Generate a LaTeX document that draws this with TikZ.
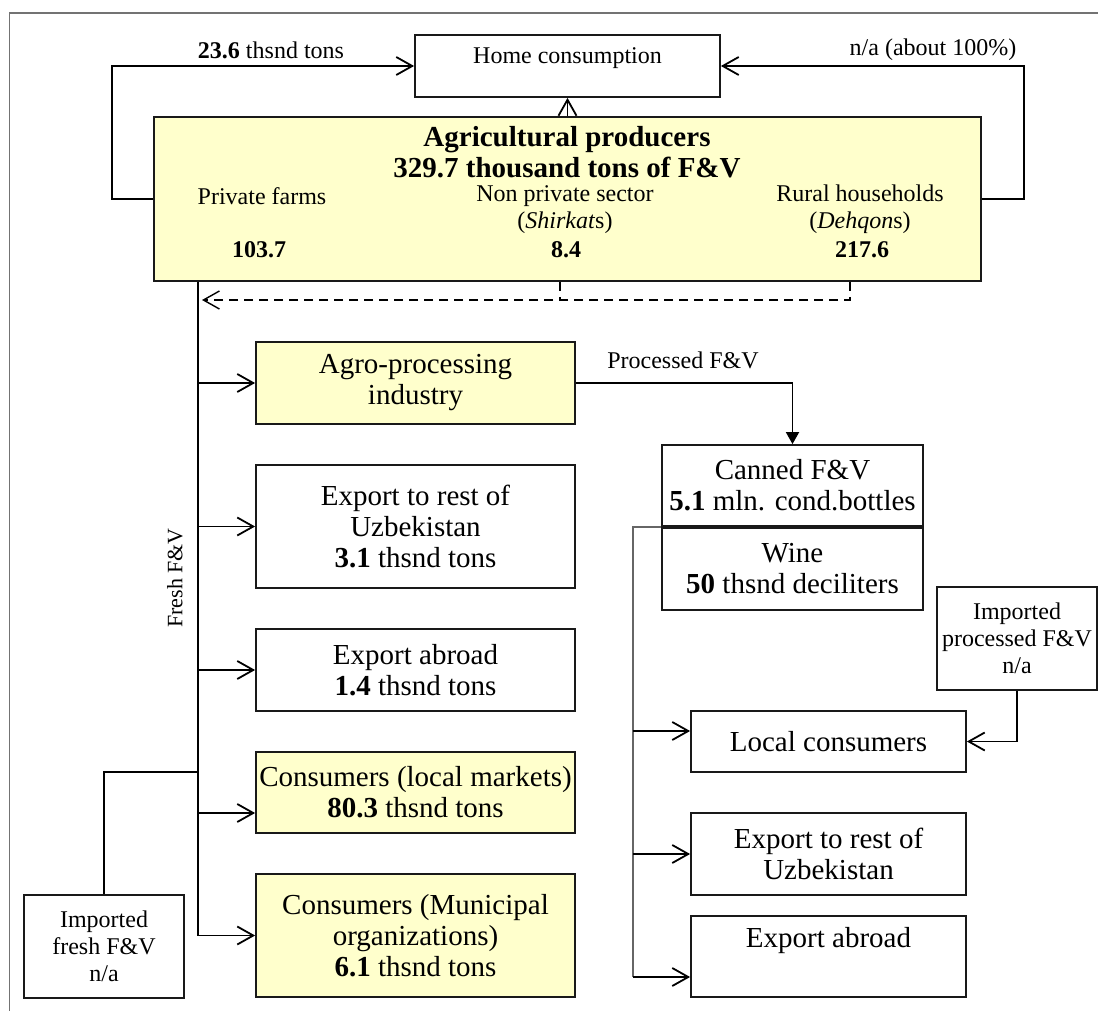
\documentclass[tikz,border=0pt]{standalone}
\usepackage{fontspec}
\setmainfont{Liberation Serif}
\usepackage{xcolor}
\usetikzlibrary{arrows.meta}
\definecolor{prodyellow}{HTML}{FFFFCC}
\newcommand\lblfont{\fontsize{12}{13.5}\selectfont}
\newcommand\boxfont{\fontsize{14.5}{15.5}\selectfont}

\begin{document}
\begin{tikzpicture}[x=0.5pt,y=-0.5pt]
\tikzset{
box/.style={draw=black!90,line width=0.9pt,align=center,inner sep=0pt,font=\boxfont},
prodbox/.style={box,fill=prodyellow},
boxsize/.style 2 args={minimum width=#1*0.5pt,minimum height=#2*0.5pt},
link/.style={line width=0.9pt},
flow/.style={link,-{Straight Barb[length=8pt,width=9pt]}},
fillflow/.style={link,-{Triangle[length=6pt,width=6.5pt]}},
dashlink/.style={line width=0.7pt,dash pattern=on 4.5pt off 3pt},
dashflow/.style={dashlink,-{Straight Barb[length=8pt,width=9pt]}},
thinlink/.style={line width=0.6pt,black!60}
}
\useasboundingbox (0,0) rectangle (1098,1011);
\draw[black!55,line width=0.6pt] (9.5,1011) -- (9.5,13) -- (1098,13);

% producers and home consumption
\node[box,boxsize={305}{62},font=\lblfont,text depth=10.6pt] (home) at (567.5,66) {Home consumption};
\node[prodbox,boxsize={827}{164}] (agri) at (567.5,199) {};
\node[font=\boxfont\bfseries,align=center] (agrititle) at (567,152) {Agricultural producers\\329.7 thousand tons of F\&V};
\node[font=\lblfont] (farms) at (262,196) {Private farms};
\node[font=\lblfont\bfseries] (farmsval) at (259,250) {103.7};
\node[font=\lblfont,align=center] (shirkat) at (565,209.5) {Non private sector\\(\textit{Shirkat}s)};
\node[font=\lblfont\bfseries] (shirkatval) at (566,250) {8.4};
\node[font=\lblfont,align=center] (dehqon) at (860,209.5) {Rural households\\(\textit{Dehqon}s)};
\node[font=\lblfont\bfseries] (dehqonval) at (862,250) {217.6};
\node[font=\lblfont] (ownlbl) at (271,50) {\textbf{23.6} thsnd tons};
\node[font=\lblfont] (hhlbl) at (933,50) {n/a (about 100\%)};

% fresh F&V
\node[prodbox,boxsize={319}{82}] (agro) at (415.5,383) {Agro-processing\\industry};
\node[box,boxsize={319}{123}] (exprest) at (415.5,526.5) {Export to rest of\\Uzbekistan\\\textbf{3.1} thsnd tons};
\node[box,boxsize={319}{82}] (expabr) at (415.5,670) {Export abroad\\\textbf{1.4} thsnd tons};
\node[prodbox,boxsize={319}{81}] (locmkt) at (415.5,792.5) {Consumers (local markets)\\\textbf{80.3} thsnd tons};
\node[prodbox,boxsize={319}{123}] (municip) at (415.5,935.5) {Consumers (Municipal\\organizations)\\\textbf{6.1} thsnd tons};
\node[box,boxsize={160}{103},font=\lblfont] (impfresh) at (104,946.5) {Imported\\fresh F\&V\\n/a};
\node[font=\fontsize{11}{12}\selectfont,rotate=90] (freshlbl) at (175,578) {Fresh F\&V};

% processed F&V
\node[font=\lblfont] (proclbl) at (683,360) {Processed F\&V};
\node[box,boxsize={261}{81}] (canned) at (792.5,485.5) {Canned F\&V\\\textbf{5.1} mln. cond.bottles};
\node[box,boxsize={261}{82},anchor=north] (wine) at (canned.south) {Wine\\\textbf{50} thsnd deciliters};
\node[box,boxsize={160}{103},font=\lblfont] (impproc) at (1017,638.5) {Imported\\processed F\&V\\n/a};
\node[box,boxsize={275}{61}] (localc) at (828.5,741.5) {Local consumers};
\node[box,boxsize={275}{82}] (exprest2) at (828.5,854) {Export to rest of\\Uzbekistan};
\node[box,boxsize={275}{81},text depth=18.7pt] (expabr2) at (828.5,956.5) {Export abroad};

\coordinate (ownbend) at (112,66);
\coordinate (hhbend) at (1024,66);
\coordinate (trunk) at (198,936);
\coordinate (dashtip) at (202,300);
\coordinate (dashA) at (560,300);
\coordinate (dashB) at (850,300);
\coordinate (impjoin) at (198,772);
\coordinate (branch) at (633,977);
\coordinate (mktin) at ([yshift=-10.25pt]locmkt.west);
\coordinate (localin) at ([yshift=5.25pt]localc.west);
\coordinate (abrin) at ([yshift=-10.25pt]expabr2.west);

\draw[flow] (agri.west) -| (ownbend) -- (home.west);
\draw[flow] (agri.east) -| (hhbend) -- (home.east);
\draw[flow] (agri.north) -- (home.south);
\draw[dashflow] (agri.south -| dashB) |- (dashtip);
\draw[dashlink] (agri.south -| dashA) -- (dashA);

\draw[link] (agri.south -| trunk) -- (trunk);
\foreach \n in {agro,exprest,expabr,municip}
  \draw[flow] (\n.west -| trunk) -- (\n.west);
\draw[flow] (mktin -| trunk) -- (mktin);
\draw[link] (impfresh.north) |- (impjoin);

\draw[fillflow] (agro.east) -| (canned.north);
\draw[thinlink] (canned.south west) -| (branch);
\draw[flow] (localin -| branch) -- (localin);
\draw[flow] (exprest2.west -| branch) -- (exprest2.west);
\draw[flow] (abrin -| branch) -- (abrin);
\draw[flow] (impproc.south) |- (localc.east);
\end{tikzpicture}
\end{document}
